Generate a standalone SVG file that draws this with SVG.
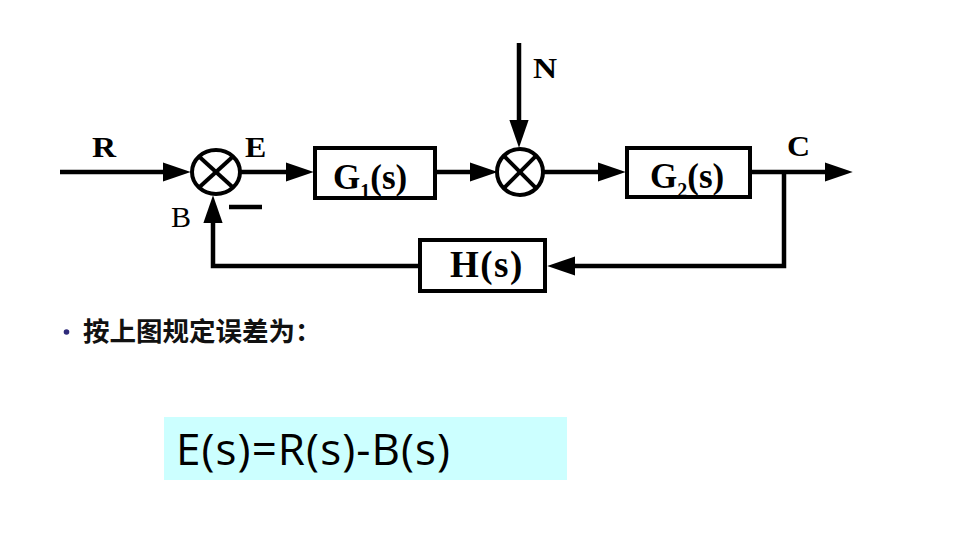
<svg xmlns="http://www.w3.org/2000/svg" width="959" height="538" viewBox="0 0 959 538">
  <defs>
    <marker id="arr" markerUnits="userSpaceOnUse" markerWidth="28" markerHeight="20" viewBox="0 0 26 18" refX="16" refY="9" orient="auto">
      <path d="M0,0 L26,9 L0,18 z" fill="#000"/>
    </marker>
    <style>
      .wire { fill: none; stroke: #000; stroke-width: 4.5; stroke-linejoin: miter; }
      .arrow { marker-end: url(#arr); }
      .box { fill: #fff; stroke: #000; stroke-width: 4; }
      .sum { fill: #fff; stroke: #000; stroke-width: 4; }
      .cross { stroke: #000; stroke-width: 4; }
      .sig { font-family: "Liberation Serif", "Times New Roman", serif; font-weight: bold; font-size: 29px; fill: #000; }
      .blk { font-family: "Liberation Serif", "Times New Roman", serif; font-weight: bold; font-size: 35px; fill: #000; }
      .sub { font-size: 20px; }
    </style>
  </defs>
  <rect width="959" height="538" fill="#fff"/>

  <g id="connectors">
    <path class="wire arrow" d="M60,172 H180"/>
    <path class="wire arrow" d="M240,172 H303"/>
    <path class="wire arrow" d="M437,172 H487"/>
    <path class="wire arrow" d="M519,43 V137"/>
    <path class="wire arrow" d="M543,172 H615"/>
    <path class="wire arrow" d="M752,172 H842"/>
    <path class="wire arrow" d="M784,172 V266 H558"/>
    <path class="wire arrow" d="M418,266 H213 V206"/>
  </g>

  <g id="sum1">
    <ellipse class="sum" cx="216" cy="172" rx="24" ry="22"/>
    <line class="cross" x1="199" y1="156.5" x2="233" y2="187.5"/>
    <line class="cross" x1="233" y1="156.5" x2="199" y2="187.5"/>
  </g>
  <g id="sum2">
    <ellipse class="sum" cx="520" cy="172" rx="23" ry="23"/>
    <line class="cross" x1="503.7" y1="155.7" x2="536.3" y2="188.3"/>
    <line class="cross" x1="536.3" y1="155.7" x2="503.7" y2="188.3"/>
  </g>

  <g id="G1">
    <rect class="box" x="315" y="148" width="120" height="50"/>
    <text class="blk" x="333" y="189">G<tspan class="sub" dy="9">1</tspan><tspan dy="-9">(s)</tspan></text>
  </g>
  <g id="G2">
    <rect class="box" x="627" y="148" width="123" height="49"/>
    <text class="blk" x="650" y="188">G<tspan class="sub" dy="9">2</tspan><tspan dy="-9">(s)</tspan></text>
  </g>
  <g id="H">
    <rect class="box" x="420" y="240" width="125" height="51"/>
    <text class="blk" x="450" y="277" style="font-size:37px" letter-spacing="1.5">H(s)</text>
  </g>

  <g id="labels">
    <text class="sig" transform="translate(92,157) scale(1.15,1)">R</text>
    <text class="sig" transform="translate(245,157) scale(1.1,1)">E</text>
    <text class="sig" transform="translate(533,78) scale(1.15,1)">N</text>
    <text class="sig" transform="translate(787,156) scale(1.1,1)">C</text>
    <text x="171" y="227" font-family="Liberation Serif, serif" font-size="30" fill="#000">B</text>
    <line x1="229" y1="207" x2="262" y2="207" stroke="#000" stroke-width="4.5"/>
  </g>

  <g id="note">
    <circle cx="66.5" cy="332" r="2.8" fill="#2e2a7a"/>
    <text x="83" y="341" font-family="Noto Sans CJK SC, sans-serif" font-weight="bold" font-size="26.5" fill="#111">按上图规定误差为：</text>
  </g>

  <g id="formula">
    <rect x="164" y="417" width="403" height="63" fill="#ccffff"/>
    <text x="176" y="465" font-family="Open Sans, Liberation Sans, sans-serif" font-size="44" fill="#000" textLength="274">E(s)=R(s)-B(s)</text>
  </g>
</svg>
